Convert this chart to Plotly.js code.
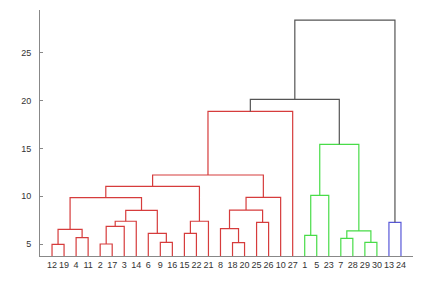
<!DOCTYPE html>
<html>
<head>
<meta charset="utf-8">
<script src="https://cdn.plot.ly/plotly-3.0.1.min.js"></script>
<style>html,body{margin:0;padding:0;background:#fff;}#chart{width:443px;height:281px;}</style>
</head>
<body>
<div id="chart"></div>
<script>
// Leaf order along the x axis (labels)
const leafOrder = [12,19,4,11,2,17,3,14,6,9,16,15,22,21,8,18,20,25,26,10,27,1,5,23,7,28,29,30,13,24];
// Linkage: cluster ids 31.. are created in this order
const mergeLeft   = [12, 2, 9, 29, 18, 7, 4, 1, 6, 15, 36, 31, 8, 32, 25, 13, 44, 40, 47, 43, 42, 50, 38, 51, 54, 53, 55, 57, 58];
const mergeRight  = [19, 17, 16, 30, 20, 28, 11, 5, 33, 22, 34, 37, 35, 3, 26, 24, 14, 21, 39, 45, 49, 10, 23, 48, 52, 41, 27, 56, 46];
const mergeHeight = [5.00, 5.03, 5.20, 5.20, 5.17, 5.62, 5.69, 5.94, 6.14, 6.14, 6.39, 6.56, 6.63, 6.87, 7.29, 7.29, 7.40, 7.40, 8.54, 8.57, 9.86, 9.89, 10.10, 11.04, 12.22, 15.42, 18.85, 20.10, 28.37];
const mergeGroup  = ['r','r','r','g','r','g','r','g','r','r','g','r','r','r','r','b','r','r','r','r','r','r','g','r','r','g','r','k','k'];
const groupColors = {r:'#d63c3c', g:'#48dc48', b:'#5858d8', k:'#555555'};

const nLeaves = leafOrder.length;
const pos = {}, hgt = {};
leafOrder.forEach((id, i) => { pos[id] = i + 1; hgt[id] = 0; });

const paths = {};
Object.keys(groupColors).forEach(k => paths[k] = {x: [], y: []});
mergeLeft.forEach((a, i) => {
  const b = mergeRight[i], h = mergeHeight[i], id = nLeaves + 1 + i;
  const p = paths[mergeGroup[i]];
  p.x.push(pos[a], pos[a], pos[b], pos[b], null);
  p.y.push(hgt[a], h, h, hgt[b], null);
  pos[id] = (pos[a] + pos[b]) / 2;
  hgt[id] = h;
});

const traces = Object.keys(groupColors).map(k => ({
  type: 'scatter', mode: 'lines', x: paths[k].x, y: paths[k].y,
  line: {color: groupColors[k], width: 1.2}, hoverinfo: 'none', showlegend: false
}));

const layout = {
  width: 443, height: 281,
  margin: {l: 40, r: 30, t: 10, b: 25},
  paper_bgcolor: '#fff', plot_bgcolor: '#fff',
  font: {family: 'Liberation Sans, Arial, sans-serif', size: 9, color: '#333'},
  xaxis: {
    range: [0, nLeaves + 1], tickmode: 'array',
    tickvals: leafOrder.map((_, i) => i + 1), ticktext: leafOrder.map(String),
    showline: true, linecolor: '#888', linewidth: 1, showgrid: false, zeroline: false,
    ticks: '', tickangle: 0, tickfont: {size: 9, color: '#333'}
  },
  yaxis: {
    range: [3.78, 29.42], tickvals: [5, 10, 15, 20, 25],
    showline: true, linecolor: '#888', linewidth: 1, showgrid: false, zeroline: false,
    ticks: 'inside', ticklen: 3, tickcolor: '#888', ticklabelstandoff: 6,
    tickfont: {size: 9, color: '#333'}
  }
};
Plotly.newPlot('chart', traces, layout, {displayModeBar: false, staticPlot: true});
</script>
</body>
</html>
